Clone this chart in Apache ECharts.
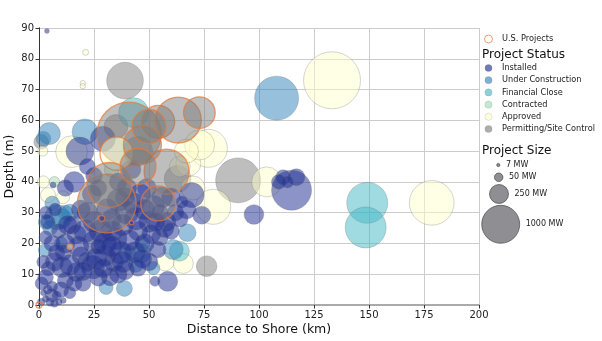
<!DOCTYPE html>
<html><head><meta charset="utf-8">
<script src="https://cdn.jsdelivr.net/npm/echarts@6.0.0/dist/echarts.min.js"></script>
<style>html,body{margin:0;padding:0;background:#fff}#c{width:602px;height:341px}</style>
</head><body><div id="c"></div>
<script>
// ---- data: [distance km, depth m, capacity MW] ----
const statusNames = ['Installed','Under Construction','Financial Close','Contracted','Approved','Permitting/Site Control'];
const statusColors = ['rgba(37,52,148,0.66)','rgba(44,127,184,0.62)','rgba(65,182,196,0.62)','rgba(161,218,180,0.62)','rgba(255,255,204,0.62)','rgba(123,123,123,0.62)'];
const legendSizes = [7, 50, 250, 1000];
const xTicks = [0,25,50,75,100,125,150,175,200];
const yTicks = [0,10,20,30,40,50,60,70,80,90];

const installed = [
 [3.6,89,17],[29,54,434],[18.6,50,544],[16,40,300],[6.4,39,25],[3.2,30,117],[7.3,31,117],
 [15,26,220],[17,23,250],[25.5,20.5,400],[35,21.6,330],[43.6,17.2,300],[4.2,11.8,140],
 [10.5,12.3,300],[17,10.7,250],[24.5,12.3,380],[32.3,9.1,220],[39,11.3,260],[5.8,3.2,117],
 [1.2,7,117],[1,1,40],[3,2,30],[5,1,50],[7,0.5,40],[9,1,30],[11,1.5,25],[2,4,25],[4,5,60],
 [6,6,80],[8,3,60],[12,8,180],[20,7,170],[27,9,220],[14,4,100],[22,14,260],[30,16,300],
 [28,24,360],[38,26,320],[45,24,260],[50,27,300],[48,20,260],[52,32,340],[46,36,300],
 [40,38,260],[36,34,340],[22,30,300],[24,36,250],[12,20,250],[8,17,190],[3,22,120],
 [2,14,120],[9,24,150],[34,14,260],[50,14,220],[55,22,190],[58,27,240],
 [62,30,190],[60,35,240],[69.4,35.7,434],[65,33.5,100],[74,29.2,225],[58.5,7.7,278],
 [52.7,7.7,70],[97.7,29.4,270],[114.8,37.3,1111],[111,41.5,156],[117,41.5,200],
 [113,40,100],[109,40,150],[55,30,190],[27,19,160],[19,16,220],[33,28,260],
 [3,9,170],[7,14,240],[11,17,190],[14,13,300],[18,19,300],[21,24,360],[25,27,320],
 [30,20,360],[33,24,320],[37,17,360],[41,21,320],[44,28,360],[48,31,300],[51,23,250],
 [54,18,190],[57,25,250],[40,30,380],[31,31,320],[26,15,320],[20,11,250],[16,7,170],
 [10,5,170],[13,26,250],[6,20,190],[4,27,150],[19,31,250],[29,12,260],[36,10,220],
 [45,12,190],[47,15,250],[33,19,320],[38,14,320],[53,27,250],[56,35,300],[49,38,250],
 [43,33,320],[39,35,260],[27,38,190],[12,38,190],[25,42,190],[60,24,190],[64,28,190],
 [67,31,250],[42,44,250],[36,40,220],[22,45,180]
];
const underConstruction = [
 [108,67.2,1344],[4.7,55.7,336],[20.9,56.3,458],[30.5,5.7,136],[38.8,5.4,178],
 [67.4,23.5,217],[10.3,28.1,278],[8.2,28.5,434],[2.7,17.8,120],[46.4,16.8,250],
 [61,18,278],[12,30,150],[5,25,150],[52,12,120],[47,20,150],[2,54,150],
 [6,33,150],[3,27,150],[14,30,200],[40,17,200],[44,13,150],[10,20,120]
];
const financialClose = [
 [149.2,33.2,1167],[148.5,25.2,1167],[43,62.5,625],[63.8,17.5,278]
];
const contracted = [[7,40,80],[33,44,150]];
const approved = [
 [133.2,73,2256],[178.5,33.2,1387],[103.5,40,625],[79.2,31.9,850],[77,50.9,1000],
 [67.9,46,434],[73,52,625],[65.6,13.5,278],[57.3,14,225],[14.8,49.8,700],
 [21.2,82.1,25],[19.9,72.1,20],[19.9,71.1,20],[1.7,50,70],[4.1,35.7,156],[10.9,35,117],
 [2,40,100],[64,45,300],[70,38,400],[67,50,400]
];
const permitting = [
 [39.1,72.9,934],[90.5,40.5,1400],[76.2,12.6,297],[1,53,150],[63,41,500],[45,50,600],[35,58,400]
];
// U.S. projects: [distance, depth, MW, status index (-1 = none)]
const usProjects = [
 [40.9,55.5,2844,5],[54.2,59.5,756,5],[63.3,60.1,1469,5],[72.9,62.5,697,5],[35.3,49.2,771,4],
 [30.8,33,2400,5],[32,39,1400,5],[58,43.3,1406,5],[54.2,33,850,5],[47,52,1000,5],
 [45,45,900,5],[50,58,800,5],
 [28.5,28.1,25,0],[14.1,18.9,25,4],[42.1,26.7,12,0],[0,0,25,-1]
];

const groups = [installed, underConstruction, financialClose, contracted, approved, permitting];
const sizeOf = v => 1.2 * Math.sqrt(v[2]);
const FONT = 'DejaVu Sans';

const drawOrder = [5,4,3,2,1,0];
const series = drawOrder.map(i => ({
  type: 'scatter', name: statusNames[i], data: groups[i], symbolSize: sizeOf,
  itemStyle: { color: statusColors[i], borderColor: 'rgba(110,110,110,0.45)', borderWidth: 0.8 },
  emphasis: { disabled: true }
}));
series.push({
  type: 'scatter', name: 'U.S. Projects', symbolSize: sizeOf,
  data: usProjects.map(p => ({ value: p, itemStyle: {
    color: p[3] < 0 ? 'rgba(255,255,255,0)' : statusColors[p[3]],
    borderColor: 'rgba(230,120,55,0.9)', borderWidth: 1.3 } })),
  emphasis: { disabled: true }
});

// legend graphics
const gx = 482;
const graphic = [];
const LF = '8.2px "DejaVu Sans"';
graphic.push({ type: 'circle', shape: { cx: 488.5, cy: 39, r: 4 }, style: { fill: 'none', stroke: 'rgba(230,120,55,0.7)', lineWidth: 1 } });
graphic.push({ type: 'text', x: 502, y: 39, style: { text: 'U.S. Projects', font: LF, fill: '#222', verticalAlign: 'middle' } });
graphic.push({ type: 'text', x: gx, y: 55, style: { text: 'Project Status', font: '12px "DejaVu Sans"', fill: '#111', verticalAlign: 'middle' } });
statusNames.forEach((n, i) => {
  const y = 68 + i * 12.2;
  graphic.push({ type: 'circle', shape: { cx: 488.5, cy: y, r: 3.6 }, style: { fill: statusColors[i], stroke: 'rgba(110,110,110,0.3)', lineWidth: 0.6 } });
  graphic.push({ type: 'text', x: 502, y: y, style: { text: n, font: LF, fill: '#222', verticalAlign: 'middle' } });
});
graphic.push({ type: 'text', x: gx, y: 151, style: { text: 'Project Size', font: '12px "DejaVu Sans"', fill: '#111', verticalAlign: 'middle' } });
const sizeY = [165, 177.3, 194, 224.3];
const sizeCx = [498.3, 498.7, 499, 500.7];
legendSizes.forEach((s, i) => {
  const r = 1.2 * Math.sqrt(s) / 2;
  graphic.push({ type: 'circle', shape: { cx: sizeCx[i], cy: sizeY[i], r: r }, style: { fill: 'rgba(115,115,120,0.8)', stroke: 'rgba(60,60,60,0.8)', lineWidth: 0.8 } });
  graphic.push({ type: 'text', x: sizeCx[i] + r + 6, y: sizeY[i], style: { text: s + ' MW', font: '8px "DejaVu Sans"', fill: '#222', verticalAlign: 'middle' } });
});

const chart = echarts.init(document.getElementById('c'), null, { renderer: 'canvas' });
chart.setOption({
  animation: false,
  backgroundColor: '#fff',
  grid: { left: 39, right: 123, top: 28, bottom: 36, containLabel: false, outerBoundsMode: 'none' },
  xAxis: [{
    type: 'value', min: 0, max: 200, interval: 25,
    name: 'Distance to Shore (km)', nameLocation: 'middle', nameGap: 18, nameMoveOverlap: false,
    nameTextStyle: { fontFamily: FONT, fontSize: 12.5, color: '#111', verticalAlign: 'top' },
    axisLine: { show: true, onZero: false, lineStyle: { color: '#333', width: 1 } },
    axisTick: { show: true, length: 3.5, lineStyle: { color: '#333' } },
    axisLabel: { fontFamily: FONT, fontSize: 10, color: '#222', margin: 5 },
    splitLine: { show: true, lineStyle: { color: '#cccccc', width: 1 } }
  }, {
    type: 'value', min: 0, max: 200, position: 'top',
    axisLine: { show: true, lineStyle: { color: '#aaaaaa', width: 2 } },
    axisTick: { show: false }, axisLabel: { show: false }, splitLine: { show: false }
  }],
  yAxis: [{
    type: 'value', min: 0, max: 90, interval: 10,
    name: 'Depth (m)', nameLocation: 'middle', nameGap: 23, nameRotate: 90, nameMoveOverlap: false,
    nameTextStyle: { fontFamily: FONT, fontSize: 12.5, color: '#111' },
    axisLine: { show: true, onZero: false, lineStyle: { color: '#333', width: 1 } },
    axisTick: { show: true, length: 3.5, lineStyle: { color: '#333' } },
    axisLabel: { fontFamily: FONT, fontSize: 10, color: '#222', margin: 5 },
    splitLine: { show: true, lineStyle: { color: '#cccccc', width: 1 } }
  }, {
    type: 'value', min: 0, max: 90, position: 'right',
    axisLine: { show: true, lineStyle: { color: '#333', width: 1 } },
    axisTick: { show: false }, axisLabel: { show: false }, splitLine: { show: false }
  }],
  series: series,
  graphic: graphic
});
</script>
</body></html>
